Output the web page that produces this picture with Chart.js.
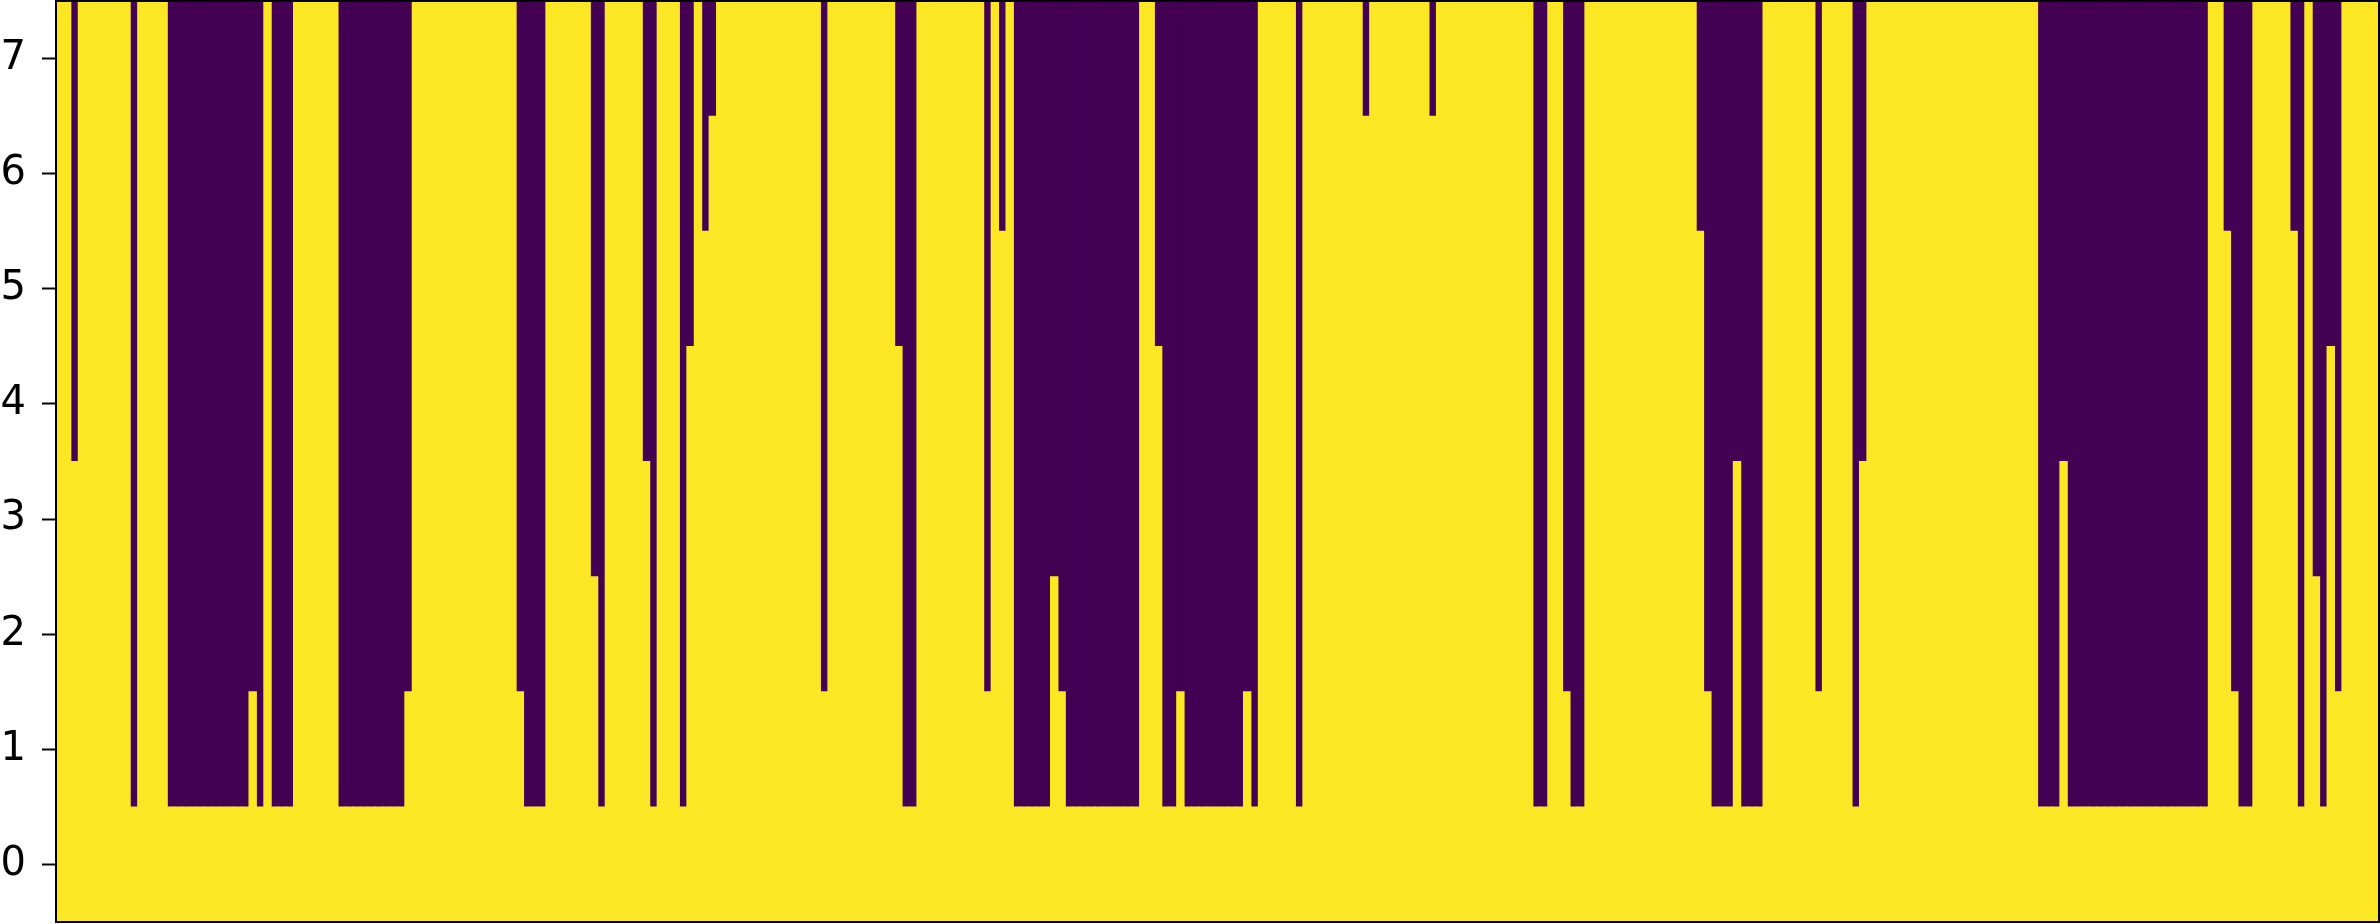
<!DOCTYPE html>
<html lang="en">
<head>
  <meta charset="UTF-8">
  <title>Binary map</title>
  <script src="https://cdn.jsdelivr.net/npm/chart.js"></script>
  <style>
    body { margin: 0; background: #fff; }
  </style>
</head>
<body>
  <canvas id="myChart" width="2380" height="924"></canvas>
  <script>
    // number of yellow cells counted from row 0 upwards, one entry per column
    const yellowRows = [
      8,8,4,8,8,8,8,8,8,8,
      1,8,8,8,8,1,1,1,1,1,
      1,1,1,1,1,1,2,1,8,1,
      1,1,8,8,8,8,8,8,1,1,
      1,1,1,1,1,1,1,2,8,8,
      8,8,8,8,8,8,8,8,8,8,
      8,8,2,1,1,1,8,8,8,8,
      8,8,3,1,8,8,8,8,8,4,
      1,8,8,8,1,5,8,6,7,8,
      8,8,8,8,8,8,8,8,8,8,
      8,8,8,2,8,8,8,8,8,8,
      8,8,8,5,1,1,8,8,8,8,
      8,8,8,8,8,2,8,6,8,1,
      1,1,1,1,3,2,1,1,1,1,
      1,1,1,1,1,1,8,8,5,1,
      1,2,1,1,1,1,1,1,1,1,
      2,1,8,8,8,8,8,1,8,8,
      8,8,8,8,8,8,7,8,8,8,
      8,8,8,8,8,7,8,8,8,8,
      8,8,8,8,8,8,8,8,8,1,
      1,8,8,2,1,1,8,8,8,8,
      8,8,8,8,8,8,8,8,8,8,
      8,6,2,1,1,1,4,1,1,1,
      8,8,8,8,8,8,8,2,8,8,
      8,8,1,4,8,8,8,8,8,8,
      8,8,8,8,8,8,8,8,8,8,
      8,8,8,8,8,8,8,1,1,1,
      4,1,1,1,1,1,1,1,1,1,
      1,1,1,1,1,1,1,1,1,1,
      8,8,6,2,1,1,8,8,8,8,
      8,6,1,8,3,1,5,2,8,8,
      8,8,8
    ];
    const rowCount = 8;
    const yTicks = [0, 1, 2, 3, 4, 5, 6, 7];
    const columns = yellowRows.map((_, i) => i);

    const YELLOW = '#fde725';
    const PURPLE = '#440154';

    const frame = {
      id: 'frame',
      afterDraw(chart) {
        const { ctx, chartArea: a } = chart;
        ctx.save();
        ctx.strokeStyle = '#000';
        ctx.lineWidth = 2;
        ctx.strokeRect(a.left, a.top, a.right - a.left, a.bottom - a.top);
        ctx.restore();
      }
    };

    const ctx = document.getElementById('myChart').getContext('2d');
    new Chart(ctx, {
      type: 'bar',
      data: {
        labels: columns,
        datasets: [
          {
            label: 'on',
            data: yellowRows.map(k => [-0.5, k - 0.5]),
            backgroundColor: YELLOW,
            grouped: false,
            borderWidth: 0,
            inflateAmount: 0.5,
            barPercentage: 1,
            categoryPercentage: 1
          },
          {
            label: 'off',
            data: yellowRows.map(k => [k - 0.5, rowCount - 0.5]),
            backgroundColor: PURPLE,
            grouped: false,
            borderWidth: 0,
            inflateAmount: 0.5,
            barPercentage: 1,
            categoryPercentage: 1
          }
        ]
      },
      options: {
        responsive: false,
        animation: false,
        devicePixelRatio: 1,
        layout: { padding: { top: 1, right: 1, bottom: 2, left: 0 } },
        plugins: { legend: { display: false }, tooltip: { enabled: false } },
        scales: {
          x: { display: false },
          y: {
            min: -0.5,
            max: rowCount - 0.5,
            afterBuildTicks: s => { s.ticks = yTicks.map(v => ({ value: v })); },
            afterFit: s => {
              s.width = 56;
              s.paddingTop = 0;
              s.paddingBottom = 0;
            },
            ticks: {
              color: '#000',
              padding: 16,
              font: { family: 'DejaVu Sans', size: 40 }
            },
            grid: {
              drawOnChartArea: false,
              drawTicks: true,
              tickLength: 14,
              tickWidth: 2,
              color: '#000'
            },
            border: { display: false }
          }
        }
      },
      plugins: [frame]
    });
  </script>
</body>
</html>
